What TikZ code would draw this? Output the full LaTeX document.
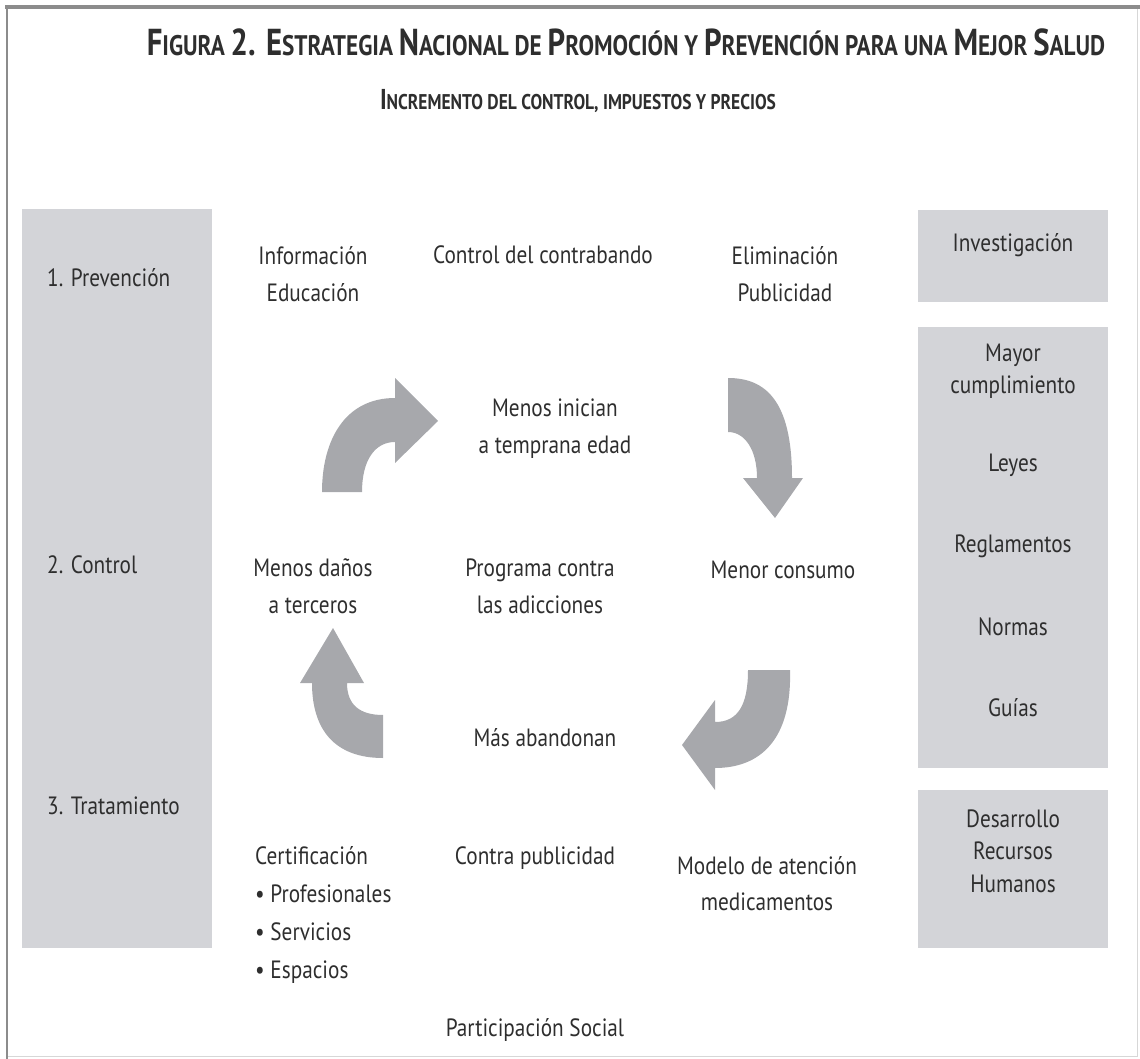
\documentclass[tikz,border=0pt]{standalone}
\usepackage{fontspec}
\setmainfont{PT Sans}[FakeStretch=0.85]
\newfontfamily\titlefont{PT Sans}[FakeStretch=0.82]
\definecolor{panelgray}{HTML}{D3D4D8}
\definecolor{arrowgray}{HTML}{A7A8AC}
\definecolor{ink}{HTML}{2E2E2E}
\definecolor{framegray}{HTML}{8C8C8C}
\newcommand{\bigc}{\fontsize{37.5}{42}\selectfont}
\newcommand{\smc}{\fontsize{28.3}{42}\selectfont}
\newcommand{\subbig}{\fontsize{28.7}{32}\selectfont}
\newcommand{\subsmc}{\fontsize{21.3}{32}\selectfont}

\begin{document}
\begin{tikzpicture}[x=1pt, y=-1pt,
    every node/.style={text=ink, inner sep=0pt, font=\fontsize{25}{37}\selectfont},
    panel/.style={fill=panelgray},
    bent/.style={fill=arrowgray},
    side/.style={align=center, font=\fontsize{25}{32.5}\selectfont}]
  \useasboundingbox (0,0) rectangle (1140,1059);

  % Frame
  \draw[framegray!35, line width=1pt] (1137,7) -- (1137,1056) -- (7,1056);
  \draw[framegray, line width=2pt] (7,7) -- (7,1059);
  \draw[framegray, line width=4pt] (5,7) -- (1140,7);

  % Panels
  \fill[panel] (22,209) rectangle (212,948);
  \fill[panel] (918,210) rectangle (1108,302);
  \fill[panel] (918,327) rectangle (1108,768);
  \fill[panel] (918,790) rectangle (1108,948);

  % Titles
  \node[font=\titlefont\bfseries] (titulo) at (626,42)
    {\bigc F\smc IGURA \bigc 2. E\smc STRATEGIA \bigc N\smc ACIONAL DE \bigc P\smc ROMOCIÓN Y \bigc P\smc REVENCIÓN PARA UNA \bigc M\smc EJOR \bigc S\smc ALUD};
  \node[font=\titlefont\bfseries] (subtitulo) at (578,101)
    {\subbig I\subsmc NCREMENTO DEL CONTROL, IMPUESTOS Y PRECIOS};

  % Left panel
  \node[anchor=west] (prevencion) at (47,278) {1. Prevención};
  \node[anchor=west] (control) at (47,565) {2. Control};
  \node[anchor=west] (tratamiento) at (47,806) {3. Tratamiento};

  % Right panels
  \node[side] (investigacion) at (1013,245) {Investigación};
  \node[side] (mayor) at (1013,371) {Mayor\\cumplimiento};
  \node[side] (leyes) at (1013,465) {Leyes};
  \node[side] (reglamentos) at (1013,546) {Reglamentos};
  \node[side] (normas) at (1013,627) {Normas};
  \node[side] (guias) at (1013,708) {Guías};
  \node[side] (desarrollo) at (1013,851) {Desarrollo\\Recursos\\Humanos};

  % Cycle
  \node[align=center] (informacion) at (313,274) {Información\\Educación};
  \node (contrabando) at (543,255) {Control del contrabando};
  \node[align=center] (eliminacion) at (785,274) {Eliminación\\Publicidad};
  \node[align=center] (inician) at (555,429) {Menos inician\\a temprana edad};
  \node[align=center] (danos) at (313,586) {Menos daños\\a terceros};
  \node[align=center] (programa) at (540,586) {Programa contra\\las adicciones};
  \node (consumo) at (783,570) {Menor consumo};
  \node (abandonan) at (545,738) {Más abandonan};
  \node[anchor=west, align=left, font=\fontsize{25}{38}\selectfont] (certificacion) at (255,915)
    {Certificación\\• Profesionales\\• Servicios\\• Espacios};
  \node (contrapub) at (535,858) {Contra publicidad};
  \node[align=center, font=\fontsize{25}{36}\selectfont] (modelo) at (767,884) {Modelo de atención\\medicamentos};
  \node (social) at (535,1030) {Participación Social};

  % Bent arrows
  \fill[bent] (322,492) .. controls (322,440) and (345,398) .. (395,398) -- (395,378)
    -- (438,421) -- (395,463) -- (395,442) .. controls (375,442) and (362,460) .. (362,492) -- cycle;
  \fill[bent] (728,378) .. controls (765,378) and (792,400) .. (792,478) -- (803,478)
    -- (775,518) -- (743,478) -- (757,478) .. controls (757,450) and (745,432) .. (728,432) -- cycle;
  \fill[bent] (748,670) -- (790,670) .. controls (792,740) and (760,768) .. (715,768) -- (715,790)
    -- (682,745) -- (715,700) -- (715,722) .. controls (738,722) and (748,705) .. (748,670) -- cycle;
  \fill[bent] (383,758) .. controls (335,758) and (312,730) .. (312,683) -- (300,683)
    -- (333,628) -- (364,683) -- (347,683) .. controls (347,705) and (360,715) .. (383,715) -- cycle;
\end{tikzpicture}
\end{document}
